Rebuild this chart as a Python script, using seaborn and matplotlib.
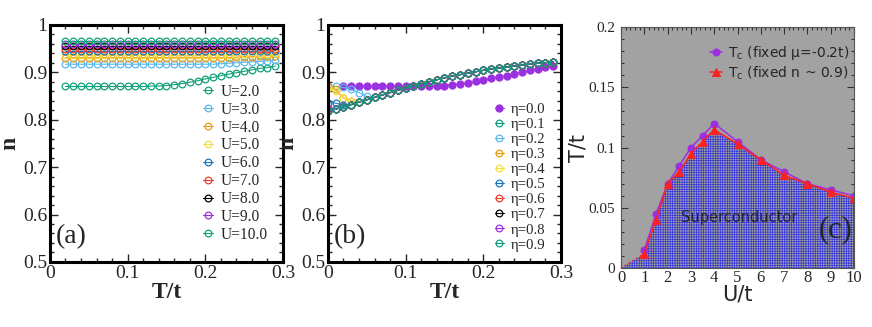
import matplotlib
matplotlib.use('Agg')
import matplotlib.pyplot as plt
from matplotlib.ticker import MultipleLocator
import seaborn as sns

sns.set_style('ticks')
plt.rcParams['font.family'] = ['Liberation Serif', 'DejaVu Serif']
plt.rcParams['mathtext.fontset'] = 'dejavusans'
plt.rcParams['hatch.linewidth'] = 0.5

# ---- panel (a): n vs T/t for several U ----
T_a = [0.02, 0.03, 0.04, 0.05, 0.06, 0.07, 0.08, 0.09, 0.10, 0.11, 0.12, 0.13, 0.14, 0.15,
       0.16, 0.17, 0.18, 0.19, 0.20, 0.21, 0.22, 0.23, 0.24, 0.25, 0.26, 0.27, 0.28, 0.29]
U_labels = ['U=2.0', 'U=3.0', 'U=4.0', 'U=5.0', 'U=6.0', 'U=7.0', 'U=8.0', 'U=9.0', 'U=10.0']
U_colors = ['#12a07a', '#5ab8ee', '#eb9c10', '#f2e040', '#1a78c0', '#f03c2a', '#000000', '#9b30e0', '#12a07a']
n_U2 = [0.870, 0.870, 0.870, 0.870, 0.870, 0.870, 0.870, 0.870, 0.870, 0.870, 0.870, 0.871, 0.871, 0.872,
        0.874, 0.876, 0.879, 0.882, 0.886, 0.889, 0.893, 0.896, 0.899, 0.902, 0.905, 0.908, 0.910, 0.913]
n_U3 = [0.917, 0.917, 0.917, 0.917, 0.917, 0.917, 0.917, 0.917, 0.917, 0.917, 0.917, 0.917, 0.917, 0.917,
        0.917, 0.917, 0.917, 0.917, 0.917, 0.917, 0.918, 0.919, 0.920, 0.921, 0.922, 0.923, 0.924, 0.925]
n_U4 = [0.931, 0.931, 0.931, 0.931, 0.931, 0.931, 0.931, 0.931, 0.931, 0.931, 0.931, 0.931, 0.931, 0.931,
        0.931, 0.931, 0.931, 0.931, 0.931, 0.931, 0.931, 0.931, 0.932, 0.933, 0.933, 0.934, 0.935, 0.935]
n_U5 = [0.937, 0.937, 0.937, 0.937, 0.937, 0.937, 0.937, 0.937, 0.937, 0.937, 0.937, 0.937, 0.937, 0.937,
        0.937, 0.937, 0.937, 0.937, 0.937, 0.937, 0.937, 0.937, 0.937, 0.938, 0.938, 0.939, 0.939, 0.940]
n_U6 = [0.944, 0.944, 0.944, 0.944, 0.944, 0.944, 0.944, 0.944, 0.944, 0.944, 0.944, 0.944, 0.944, 0.944,
        0.944, 0.944, 0.944, 0.944, 0.944, 0.944, 0.944, 0.944, 0.944, 0.944, 0.944, 0.945, 0.945, 0.945]
n_U7 = [0.950, 0.950, 0.950, 0.950, 0.950, 0.950, 0.950, 0.950, 0.950, 0.950, 0.950, 0.950, 0.950, 0.950,
        0.950, 0.950, 0.950, 0.950, 0.950, 0.950, 0.950, 0.950, 0.950, 0.949, 0.949, 0.949, 0.949, 0.949]
n_U8 = [0.955, 0.955, 0.955, 0.955, 0.955, 0.955, 0.955, 0.955, 0.955, 0.955, 0.955, 0.955, 0.955, 0.955,
        0.955, 0.955, 0.955, 0.955, 0.955, 0.955, 0.955, 0.955, 0.955, 0.955, 0.955, 0.955, 0.955, 0.955]
n_U9 = [0.960, 0.960, 0.960, 0.960, 0.960, 0.960, 0.960, 0.960, 0.960, 0.960, 0.960, 0.960, 0.960, 0.960,
        0.960, 0.960, 0.960, 0.960, 0.960, 0.960, 0.960, 0.960, 0.960, 0.960, 0.960, 0.960, 0.960, 0.960]
n_U10 = [0.966, 0.966, 0.966, 0.966, 0.966, 0.966, 0.966, 0.966, 0.966, 0.966, 0.966, 0.966, 0.966, 0.966,
         0.966, 0.966, 0.966, 0.966, 0.966, 0.966, 0.966, 0.966, 0.966, 0.966, 0.966, 0.966, 0.966, 0.966]
n_U = [n_U2, n_U3, n_U4, n_U5, n_U6, n_U7, n_U8, n_U9, n_U10]

# ---- panel (b): n vs T/t for several eta ----
T_b = [0.00, 0.01, 0.02, 0.03, 0.04, 0.05, 0.06, 0.07, 0.08, 0.09, 0.10, 0.11, 0.12, 0.13, 0.14,
       0.15, 0.16, 0.17, 0.18, 0.19, 0.20, 0.21, 0.22, 0.23, 0.24, 0.25, 0.26, 0.27, 0.28, 0.29]
T_eta0 = T_a
n_eta0 = [0.870, 0.870, 0.870, 0.870, 0.870, 0.870, 0.870, 0.870, 0.870, 0.870, 0.870, 0.870, 0.871, 0.872,
          0.874, 0.876, 0.878, 0.881, 0.884, 0.887, 0.890, 0.893, 0.897, 0.900, 0.904, 0.907, 0.911, 0.914]
# curves for eta>0 collapse onto one line; they only differ at the lowest T
n_eta_common = [0.818, 0.822, 0.827, 0.832, 0.837, 0.842, 0.847, 0.852, 0.857, 0.862, 0.867, 0.871, 0.876, 0.880,
                0.884, 0.888, 0.892, 0.895, 0.898, 0.901, 0.904, 0.907, 0.909, 0.911, 0.913, 0.915, 0.917, 0.919,
                0.920, 0.922]
eta_low = [[], [0.872, 0.870, 0.868, 0.864, 0.857, 0.849], [0.870, 0.864, 0.846, 0.840],
           [0.866, 0.861, 0.845, 0.839], [0.836, 0.835, 0.830], [0.820], [], [0.825, 0.822], []]
eta_labels = ['η=0.1', 'η=0.2', 'η=0.3', 'η=0.4', 'η=0.5', 'η=0.6', 'η=0.7', 'η=0.8', 'η=0.9']
eta_colors = U_colors

# ---- panel (c): phase diagram ----
U_c = [1, 1.5, 2, 2.5, 3, 3.5, 4, 5, 6, 7, 8, 9, 10]
tc_mu = [0.015, 0.045, 0.070, 0.085, 0.100, 0.110, 0.120, 0.105, 0.090, 0.080, 0.070, 0.065, 0.060]
tc_n = [0.012, 0.040, 0.070, 0.080, 0.095, 0.105, 0.115, 0.103, 0.090, 0.077, 0.070, 0.063, 0.058]
U_extra = [0, 1]
tc_extra = [0.0, 0.012]

fig = plt.figure(figsize=(8.72, 3.27), dpi=100)
ax_a = fig.add_axes([0.0573, 0.199, 0.2672, 0.725])
ax_b = fig.add_axes([0.3761, 0.199, 0.2672, 0.725])
ax_c = fig.add_axes([0.7122, 0.180, 0.2672, 0.737])


def style_ab(ax):
    ax.set_xlim(0, 0.3)
    ax.set_ylim(0.5, 1.0)
    ax.xaxis.set_minor_locator(MultipleLocator(0.02))
    ax.yaxis.set_minor_locator(MultipleLocator(0.02))
    ax.set_xticks([0, 0.1, 0.2, 0.3], ['0', '0.1', '0.2', '0.3'])
    ax.set_yticks([0.5, 0.6, 0.7, 0.8, 0.9, 1.0], ['0.5', '0.6', '0.7', '0.8', '0.9', '1'])
    ax.tick_params(which='both', direction='in', top=True, right=True, labelsize=14, width=1.0)
    ax.tick_params(which='major', length=6, pad=2)
    ax.tick_params(which='minor', length=3)
    for s in ax.spines.values():
        s.set_linewidth(2.2)
        s.set_color('black')
    ax.set_xlabel('T/t', fontsize=17, fontweight='bold', labelpad=0)
    ax.set_ylabel('n', fontsize=17, fontweight='bold', labelpad=2)


for vals, lab, col in zip(n_U, U_labels, U_colors):
    sns.lineplot(x=T_a, y=vals, ax=ax_a, color=col, linewidth=0.8, marker='o', markersize=4.8,
                 markerfacecolor='none', markeredgecolor=col, markeredgewidth=0.9, label=lab)
style_ab(ax_a)
ax_a.legend(loc='lower right', bbox_to_anchor=(0.98, 0.035), frameon=False, fontsize=11.2,
            handlelength=0.6, handletextpad=0.5, labelspacing=0.12, borderpad=0.2)
ax_a.text(0.008, 0.553, '(a)', fontsize=20, va='center')

sns.lineplot(x=T_eta0, y=n_eta0, ax=ax_b, color='#9b30e0', linewidth=0.8, marker='o', markersize=5.2,
             markerfacecolor='#9b30e0', markeredgecolor='#9b30e0', label='η=0.0')
for low, lab, col in zip(eta_low, eta_labels, eta_colors):
    vals = low + n_eta_common[len(low):]
    sns.lineplot(x=T_b, y=vals, ax=ax_b, color=col, linewidth=0.8, marker='o', markersize=4.8,
                 markerfacecolor='none', markeredgecolor=col, markeredgewidth=0.9, label=lab)
style_ab(ax_b)
ax_b.legend(loc='lower right', bbox_to_anchor=(0.98, 0.0), frameon=False, fontsize=10.6,
            handlelength=0.6, handletextpad=0.5, labelspacing=0.12, borderpad=0.2)
ax_b.text(0.008, 0.553, '(b)', fontsize=20, va='center')

# panel c
ax_c.set_facecolor('#a2a2a2')
ax_c.fill_between([0] + U_c, [0.0] + tc_n, 0, facecolor='#a2a2a2', edgecolor='#3535d8',
                  hatch='+++++++', linewidth=0)
sns.lineplot(x=U_extra, y=tc_extra, ax=ax_c, color='#ff2020', linestyle=':', linewidth=1.2)
sns.lineplot(x=U_c, y=tc_mu, ax=ax_c, color='#9b30e0', linewidth=1.1, marker='o', markersize=5,
             markeredgecolor='#9b30e0', label=r'T$_\mathrm{c}$ (fixed μ=-0.2t)')
sns.lineplot(x=U_c, y=tc_n, ax=ax_c, color='#ff2020', linewidth=1.1, marker='^', markersize=5.5,
             markeredgecolor='#ff2020', label=r'T$_\mathrm{c}$ (fixed n ~ 0.9)')
ax_c.set_xlim(0, 10)
ax_c.set_ylim(0, 0.2)
ax_c.set_xticks([0, 1, 2, 3, 4, 5, 6, 7, 8, 9, 10])
ax_c.set_yticks([0, 0.05, 0.1, 0.15, 0.2], ['0', '0.05', '0.1', '0.15', '0.2'])
ax_c.xaxis.set_minor_locator(MultipleLocator(0.2))
ax_c.yaxis.set_minor_locator(MultipleLocator(0.01))
ax_c.tick_params(which='both', direction='in', top=True, right=True, width=0.8, color='#333333')
ax_c.tick_params(which='major', length=5)
ax_c.tick_params(which='minor', length=2.5)
ax_c.tick_params(axis='x', labelsize=12, pad=1)
ax_c.tick_params(axis='y', labelsize=11, pad=4)
for s in ax_c.spines.values():
    s.set_linewidth(0.8)
    s.set_color('#555555')
ax_c.set_xlabel('U/t', fontsize=15, family='DejaVu Sans', labelpad=-1)
ax_c.set_ylabel('T/t', fontsize=15, family='DejaVu Sans', labelpad=0)
ax_c.legend(loc='upper right', bbox_to_anchor=(1.02, 0.97), frameon=False,
            prop={'family': 'DejaVu Sans', 'size': 10}, handlelength=0.9, handletextpad=0.4,
            labelspacing=0.15, borderpad=0.2)
ax_c.text(5.05, 0.042, 'Superconductor', fontsize=10.5, family='DejaVu Sans', ha='center', va='center')
ax_c.text(9.2, 0.032, '(c)', fontsize=22, ha='center', va='center')

fig.savefig('out.png', dpi=100)
